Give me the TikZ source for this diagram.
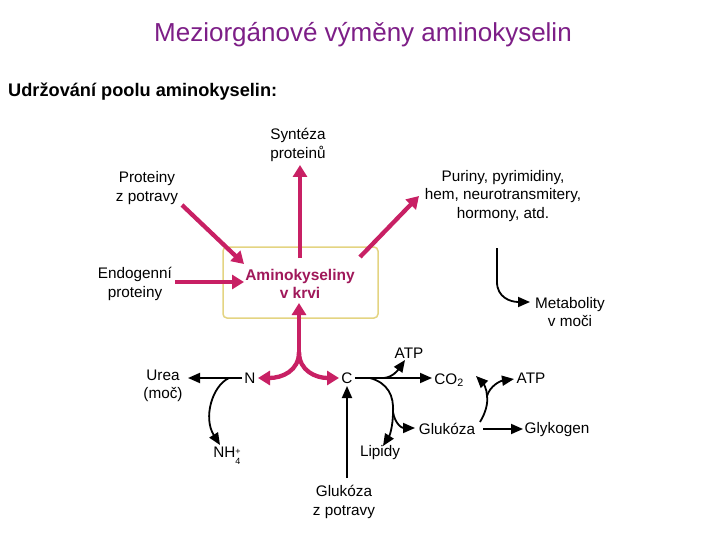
\documentclass[tikz,border=0pt]{standalone}
\usepackage{fontspec}
\setmainfont{Liberation Sans}
\usetikzlibrary{arrows.meta}
\definecolor{titlepurple}{RGB}{125,30,135}
\definecolor{mag}{RGB}{200,32,100}
\definecolor{boxtext}{RGB}{160,24,90}
\definecolor{boxline}{RGB}{228,212,130}
\tikzset{
  lbl/.style={font=\fontsize{15.3}{18.5}\selectfont, align=center, inner sep=0pt},
  magarrow/.style={draw=mag, line width=4.3pt, -{Triangle[width=14pt,length=12pt]}},
  blkarrow/.style={draw=black, line width=1.8pt, -{Triangle[width=10pt,length=12pt]}},
  blkline/.style={draw=black, line width=1.8pt},
}
\begin{document}
\begin{tikzpicture}[x=1pt,y=-1pt]
\useasboundingbox (0,0) rectangle (720,540);
\fill[white] (0,0) rectangle (720,540);
% titles
\node[text=titlepurple, font=\fontsize{26}{30}\selectfont, inner sep=0pt] (title) at (363,35) {Meziorgánové výměny aminokyselin};
\node[anchor=west, font=\bfseries\fontsize{18.2}{21}\selectfont, inner sep=0pt] (sub) at (8,92) {Udržování poolu aminokyselin:};
% central box
\node[draw=boxline, line width=1.5pt, rounded corners=4pt, minimum width=155pt, minimum height=71pt] (box) at (300.5,282.5) {};
\node[text=boxtext, font=\bfseries\fontsize{15.5}{18.5}\selectfont, align=center, inner sep=0pt] (aa) at (300,284) {Aminokyseliny\\v krvi};
% labels
\node[lbl] (synt) at (298,145) {Syntéza\\proteinů};
\node[lbl] (prot) at (147,188) {Proteiny\\z potravy};
\node[lbl] (endo) at (135,284) {Endogenní\\proteiny};
\node[lbl] (pur) at (503,196) {Puriny, pyrimidiny,\\hem, neurotransmitery,\\hormony, atd.};
\node[lbl] (meta) at (570,312) {Metabolity\\v moči};
\node[lbl] (urea) at (163,386) {Urea\\(moč)};
\node[lbl] (N) at (250,378) {N};
\node[lbl] (C) at (347,378) {C};
\node[lbl] (nh4) at (227,456) {NH\raisebox{-0.9ex}{\fontsize{9}{9}\selectfont\shortstack[l]{+\\[1.5pt]4}}};
\node[lbl] (lip) at (380,453) {Lipidy};
\node[lbl] (glp) at (344,502) {Glukóza\\z potravy};
\node[lbl] (atp1) at (409,353) {ATP};
\node[lbl] (co2) at (449,380) {CO\textsubscript{2}};
\node[lbl] (atp2) at (531,378) {ATP};
\node[lbl] (glu) at (447,429) {Glukóza};
\node[lbl] (glyk) at (557,430) {Glykogen};
% coordinates
\coordinate (p1) at (182,205); \coordinate (p2) at (244,264);
\coordinate (e1) at (175,282); \coordinate (e2) at (244,282);
\coordinate (s1) at (300,258); \coordinate (s2) at (300,165);
\coordinate (u1) at (360,257); \coordinate (u2) at (419,196);
\coordinate (j) at (299,352); \coordinate (j2) at (299,303);
\coordinate (nt) at (258,378); \coordinate (ct) at (339,378);
% magenta arrows
\draw[magarrow] (p1) -- (p2);
\draw[magarrow] (e1) -- (e2);
\draw[magarrow] (s1) -- (s2);
\draw[magarrow] (u1) -- (u2);
\draw[magarrow] (j) -- (j2);
\draw[magarrow] (j) .. controls (299,371) and (282,378) .. (nt);
\draw[magarrow] (j) .. controls (299,371) and (316,378) .. (ct);
% black arrows
\coordinate (nl) at (242,378); \coordinate (ul) at (188,378);
\draw[blkarrow] (nl) -- (ul);
\coordinate (nb) at (229,378); \coordinate (nh) at (220,445);
\draw[blkarrow] (nb) .. controls (212,386) and (203,418) .. (nh);
\coordinate (gb) at (347,478); \coordinate (gt) at (347,386);
\draw[blkarrow] (gb) -- (gt);
\coordinate (cr) at (355,378); \coordinate (co) at (432,378);
\draw[blkarrow] (cr) -- (co);
\coordinate (ab) at (384,378); \coordinate (at) at (405,360);
\draw[blkarrow] (ab) .. controls (393,377) and (398,370) .. (at);
\coordinate (lb) at (370,378); \coordinate (lm) at (393,412); \coordinate (lt) at (383,446);
\draw[blkline] (lb) .. controls (388,383) and (394,396) .. (lm);
\draw[blkarrow] (lm) .. controls (393,425) and (390,435) .. (lt);
\coordinate (gk) at (415,428);
\draw[blkarrow] (lm) .. controls (395,424) and (402,428) .. (gk);
\coordinate (g1) at (483,429); \coordinate (g2) at (523,429);
\draw[blkarrow] (g1) -- (g2);
\coordinate (gs) at (480,422); \coordinate (gm) at (487,396);
\coordinate (gl) at (476,376); \coordinate (gr) at (514,379);
\draw[blkline] (gs) .. controls (486,412) and (488,403) .. (gm);
\draw[blkarrow] (gm) .. controls (487,389) and (483,383) .. (gl);
\draw[blkarrow] (gm) .. controls (490,386) and (500,381) .. (gr);
\coordinate (m1) at (497,248); \coordinate (m2) at (497,282); \coordinate (m3) at (530,302);
\draw[blkarrow] (m1) -- (m2) .. controls (497,297) and (510,302) .. (m3);
\end{tikzpicture}
\end{document}
